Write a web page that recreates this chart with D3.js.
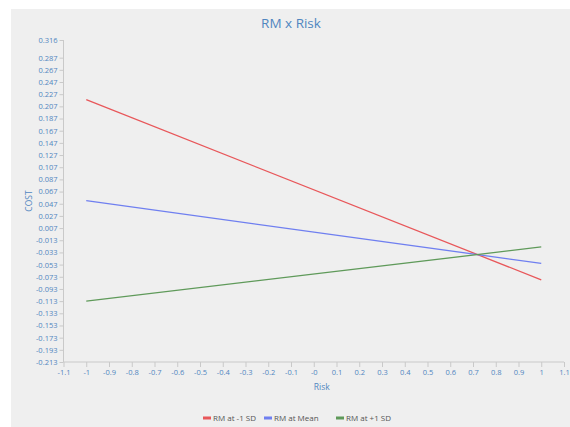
<!DOCTYPE html>
<html>
<head>
<meta charset="utf-8">
<script src="https://cdn.jsdelivr.net/npm/d3@7"></script>
<style>
  html, body { margin: 0; padding: 0; background: #ffffff; }
  svg { display: block; font-family: "Open Sans", "Noto Sans", sans-serif; }
</style>
</head>
<body>
<svg id="chart" width="570" height="427"></svg>
<script>
// Simple slopes: predicted cost across Risk at three levels of RM
const seriesNames = ["RM at -1 SD", "RM at Mean", "RM at +1 SD"];
const seriesColors = ["#e8575a", "#6f7ff0", "#5f9a5a"];
const riskValues = [-1, 1];
const costLow = [0.218, -0.078];
const costMean = [0.052, -0.051];
const costHigh = [-0.113, -0.024];

const xTickValues = [-1.1, -1, -0.9, -0.8, -0.7, -0.6, -0.5, -0.4, -0.3, -0.2, -0.1, 0,
                     0.1, 0.2, 0.3, 0.4, 0.5, 0.6, 0.7, 0.8, 0.9, 1, 1.1];
const xTickLabels = ["-1.1", "-1", "-0.9", "-0.8", "-0.7", "-0.6", "-0.5", "-0.4", "-0.3", "-0.2", "-0.1", "-0",
                     "0.1", "0.2", "0.3", "0.4", "0.5", "0.6", "0.7", "0.8", "0.9", "1", "1.1"];
const yTickValues = [-0.213, -0.193, -0.173, -0.153, -0.133, -0.113, -0.093, -0.073, -0.053, -0.033, -0.013,
                     0.007, 0.027, 0.047, 0.067, 0.087, 0.107, 0.127, 0.147, 0.167, 0.187, 0.207,
                     0.227, 0.247, 0.267, 0.287, 0.316];
const yTickLabels = ["-0.213", "-0.193", "-0.173", "-0.153", "-0.133", "-0.113", "-0.093", "-0.073", "-0.053", "-0.033", "-0.013",
                     "0.007", "0.027", "0.047", "0.067", "0.087", "0.107", "0.127", "0.147", "0.167", "0.187", "0.207",
                     "0.227", "0.247", "0.267", "0.287", "0.316"];

const seriesValues = [costLow, costMean, costHigh];
const series = seriesNames.map((name, i) => ({
  name, color: seriesColors[i],
  points: riskValues.map((r, j) => ({ x: r, y: seriesValues[i][j] }))
}));

const svg = d3.select("#chart");
const textColor = "#4f86c0";
const axisColor = "#c9c9c9";

// panel background
svg.append("rect").attr("x", 11).attr("y", 9).attr("width", 559).attr("height", 418)
  .attr("fill", "#efefef");

const plot = { left: 63.5, right: 564, top: 40, bottom: 362 };

const x = d3.scaleLinear().domain([-1.1, 1.1]).range([plot.left, plot.right]);
const y = d3.scaleLinear().domain([-0.213, 0.316]).range([plot.bottom, plot.top]);

// title
svg.append("text").attr("x", 291).attr("y", 28).attr("text-anchor", "middle")
  .attr("font-size", 13.5).attr("fill", textColor).text("RM x Risk");

// y axis
const yAxis = d3.axisLeft(y).tickValues(yTickValues)
  .tickFormat((d, i) => yTickLabels[i]).tickSize(4).tickPadding(2);
const gy = svg.append("g").attr("transform", `translate(${plot.left},0)`).call(yAxis);
gy.select(".domain").attr("stroke", axisColor).attr("d", `M-0,${plot.top}V${plot.bottom}`);
gy.selectAll(".tick line").attr("stroke", axisColor);
gy.selectAll(".tick text").attr("fill", textColor).attr("font-size", 7.5)
  .attr("font-family", "'Open Sans', 'Noto Sans', sans-serif");

// x axis
const xAxis = d3.axisBottom(x).tickValues(xTickValues)
  .tickFormat((d, i) => xTickLabels[i]).tickSize(5).tickPadding(3);
const gx = svg.append("g").attr("transform", `translate(0,${plot.bottom})`).call(xAxis);
gx.select(".domain").attr("stroke", axisColor).attr("d", `M${plot.left},0H${plot.right}`);
gx.selectAll(".tick line").attr("stroke", axisColor);
gx.selectAll(".tick text").attr("fill", textColor).attr("font-size", 7.5)
  .attr("font-family", "'Open Sans', 'Noto Sans', sans-serif");

// axis titles
svg.append("text").attr("x", x(0)).attr("y", 390).attr("text-anchor", "start")
  .attr("font-size", 8.5).attr("fill", textColor).text("Risk");
svg.append("text").attr("transform", "translate(32,201) rotate(-90)").attr("text-anchor", "middle")
  .attr("font-size", 8.5).attr("fill", textColor).text("COST");

// lines
const line = d3.line().x(d => x(d.x)).y(d => y(d.y));
svg.append("g").selectAll("path").data(series).join("path")
  .attr("d", d => line(d.points))
  .attr("fill", "none").attr("stroke", d => d.color).attr("stroke-width", 1.3);

// legend
const legendItems = [
  { x: 203, ...series[0] },
  { x: 264, ...series[1] },
  { x: 336, ...series[2] }
];
const lg = svg.append("g").attr("transform", "translate(0,418)");
lg.selectAll("rect").data(legendItems).join("rect")
  .attr("x", d => d.x).attr("y", -1.5).attr("width", 8).attr("height", 3)
  .attr("fill", d => d.color);
lg.selectAll("text").data(legendItems).join("text")
  .attr("x", d => d.x + 10).attr("y", 3).attr("font-size", 8)
  .attr("fill", "#555555").text(d => d.name);
</script>
</body>
</html>
